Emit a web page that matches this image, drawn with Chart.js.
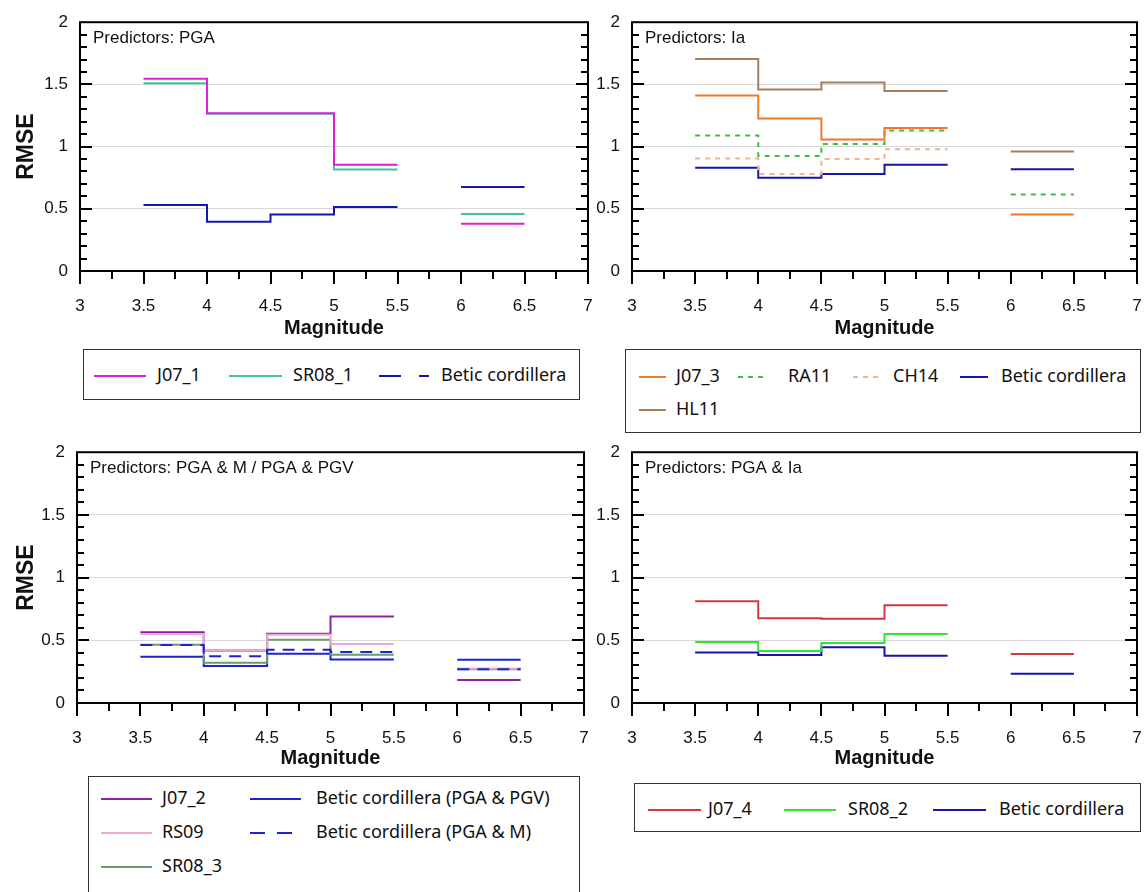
<!DOCTYPE html>
<html>
<head>
<meta charset="utf-8">
<script src="https://cdn.jsdelivr.net/npm/chart.js@4.4.1/dist/chart.umd.min.js"></script>
<style>
body { margin: 0; background: #fff; }
#page { position: relative; width: 1146px; height: 892px; overflow: hidden; background: #fff; }
canvas { position: absolute; }
.legend { position: absolute; border: 1.5px solid #333; box-sizing: border-box; background: #fff;
          font-family: "Noto Sans", sans-serif; font-size: 18px; color: #111; }
.item { position: absolute; white-space: nowrap; line-height: 20px; }
.item svg { position: absolute; }
</style>
</head>
<body>
<div id="page">
  <canvas id="c1" width="600" height="345" style="left:0px;top:0px"></canvas>
  <canvas id="c2" width="556" height="345" style="left:590px;top:0px"></canvas>
  <canvas id="c3" width="600" height="345" style="left:0px;top:430px"></canvas>
  <canvas id="c4" width="556" height="345" style="left:590px;top:430px"></canvas>
</div>
<script>
// magnitude bin edges; each value holds from its edge to the next one
var mag_edges = [3.5, 4, 4.5, 5, 5.5];
var mag_last = [6, 6.5];
var x_ticks = [3, 3.5, 4, 4.5, 5, 5.5, 6, 6.5, 7];
var y_ticks = [0, 0.5, 1, 1.5, 2];

// RMSE per bin: 3.5-4, 4-4.5, 4.5-5, 5-5.5, 6-6.5
// predictors: PGA
var j07_1 = [1.545, 1.268, 1.268, 0.855, 0.38];
var sr08_1 = [1.51, 1.264, 1.264, 0.815, 0.458];
var betic_1 = [0.53, 0.395, 0.455, 0.515, 0.675];

// predictors: Ia
var j07_3 = [1.41, 1.225, 1.058, 1.15, 0.455];
var ra11 = [1.09, 0.925, 1.02, 1.13, 0.615];
var ch14 = [0.905, 0.78, 0.9, 0.978, null];
var hl11 = [1.705, 1.46, 1.515, 1.447, 0.96];
var betic_2 = [0.83, 0.75, 0.78, 0.855, 0.818];

// predictors: PGA & M / PGA & PGV
var j07_2 = [0.565, 0.418, 0.553, 0.69, 0.183];
var rs09 = [0.55, 0.42, 0.545, 0.47, 0.275];
var sr08_3 = [0.465, 0.32, 0.505, 0.385, 0.27];
var betic_pgv = [0.368, 0.295, 0.392, 0.347, 0.345];
var betic_m = [0.463, 0.373, 0.425, 0.407, 0.27];

// predictors: PGA & Ia
var j07_4 = [0.812, 0.675, 0.672, 0.78, 0.39];
var sr08_2 = [0.487, 0.414, 0.479, 0.55, null];
var betic_4 = [0.403, 0.382, 0.445, 0.377, 0.233];

function step_points(vals) {
    var pts = [];
    for (var i = 0; i < 4; i++) {
        pts.push({x: mag_edges[i], y: vals[i]});
    }
    pts.push({x: mag_edges[4], y: vals[3]});
    pts.push({x: 5.75, y: null});
    if (vals[4] !== null) {
        pts.push({x: mag_last[0], y: vals[4]});
        pts.push({x: mag_last[1], y: vals[4]});
    }
    return pts;
}

function make_dataset(name, vals, color, dash, width) {
    return {
        label: name,
        data: step_points(vals),
        borderColor: color,
        borderWidth: width || 2,
        borderDash: dash || [],
        stepped: 'before',
        pointRadius: 0,
        fill: false,
        spanGaps: false
    };
}

var frame_plugin = {
    id: 'frame',
    afterDraw: function(chart) {
        var ctx = chart.ctx;
        var a = chart.chartArea;
        var xs = chart.scales.x;
        var ys = chart.scales.y;
        ctx.save();
        ctx.strokeStyle = '#000';
        ctx.lineWidth = 2;
        ctx.strokeRect(a.left, a.top, a.right - a.left, a.bottom - a.top);
        ctx.beginPath();
        // y ticks inside, both sides
        for (var v = 1; v < 20; v++) {
            var y = Math.round(ys.getPixelForValue(v / 10));
            var len = (v % 5 == 0) ? 12 : 7;
            ctx.moveTo(a.left, y); ctx.lineTo(a.left + len, y);
            ctx.moveTo(a.right, y); ctx.lineTo(a.right - len, y);
        }
        // x ticks outside, below
        for (var k = 0; k <= 16; k++) {
            var x = Math.round(xs.getPixelForValue(3 + k * 0.25));
            var l2 = (k % 2 == 0) ? 13 : 8;
            ctx.moveTo(x, a.bottom); ctx.lineTo(x, a.bottom + l2);
        }
        ctx.stroke();
        ctx.fillStyle = '#111';
        ctx.font = '17px "Liberation Sans", Arial, sans-serif';
        ctx.textBaseline = 'middle';
        ctx.fillText(chart.options.plugins.frame.label, a.left + 13, a.top + 16);
        ctx.restore();
    }
};

function create_panel(canvas_id, p) {
    var ctx = document.getElementById(canvas_id);
    var w = ctx.width, h = ctx.height;
    return new Chart(ctx, {
        type: 'line',
        data: { datasets: p.datasets },
        options: {
            responsive: false,
            animation: false,
            devicePixelRatio: 1,
            layout: { padding: { left: 0, top: p.top, right: w - p.right, bottom: 0 } },
            plugins: {
                legend: { display: false },
                tooltip: { enabled: false },
                frame: { label: p.label }
            },
            scales: {
                x: {
                    type: 'linear', min: 3, max: 7,
                    afterBuildTicks: function(s) { s.ticks = x_ticks.map(function(v) { return {value: v}; }); },
                    afterFit: function(s) {
                        s.height = h - p.bottom;
                        s.paddingLeft = 0;
                        s.paddingRight = 0;
                    },
                    grid: { display: false, drawTicks: false },
                    border: { display: false },
                    ticks: { padding: 25, maxRotation: 0, autoSkip: false, color: '#111',
                             callback: function(v) { return String(v); },
                             font: { family: '"Liberation Sans", Arial', size: 17 } },
                    title: { display: true, text: 'Magnitude', color: '#111',
                             padding: { top: 0, bottom: 5 },
                             font: { family: '"Liberation Sans", Arial', size: 20, weight: 'bold' } }
                },
                y: {
                    min: 0, max: 2,
                    afterBuildTicks: function(s) { s.ticks = y_ticks.map(function(v) { return {value: v}; }); },
                    afterFit: function(s) { s.width = p.left; },
                    grid: { color: '#d9d9d9', lineWidth: 1, drawTicks: false },
                    border: { display: false },
                    ticks: { padding: p.ypad, color: '#111',
                             callback: function(v) { return String(v); },
                             font: { family: '"Liberation Sans", Arial', size: 17 } },
                    title: { display: p.rmse, text: 'RMSE', color: '#111',
                             padding: { top: 13, bottom: 0 },
                             font: { family: '"Liberation Sans", Arial', size: 23, weight: 'bold' } }
                }
            }
        },
        plugins: [frame_plugin]
    });
}

function sample_svg(color, dash, len) {
    return '<svg width="' + len + '" height="4" style="left:0;top:9px">' +
        '<line x1="0" y1="2" x2="' + len + '" y2="2" stroke="' + color + '" stroke-width="2"' +
        (dash ? ' stroke-dasharray="' + dash + '"' : '') + '/></svg>';
}

function create_legend(box, items) {
    var div = document.createElement('div');
    div.className = 'legend';
    div.style.left = box.left + 'px';
    div.style.top = box.top + 'px';
    div.style.width = box.width + 'px';
    div.style.height = box.height + 'px';
    items.forEach(function(it) {
        var el = document.createElement('div');
        el.className = 'item';
        el.style.left = (it.x - box.left) + 'px';
        el.style.top = (it.y - box.top - 10) + 'px';
        el.innerHTML = sample_svg(it.color, it.dash, it.len) +
            '<span style="position:absolute;left:' + it.gap + 'px;top:-1px">' + it.label + '</span>';
        div.appendChild(el);
    });
    document.getElementById('page').appendChild(div);
}

var c_magenta = '#e21fd8', c_teal = '#3fc4a2', c_navy = '#1616a8';
var c_orange = '#f0782a', c_green_d = '#3ebd3e', c_peach = '#f3b293', c_brown = '#a2805c';
var c_purple = '#8a22a8', c_pink = '#f2a6d2', c_sage = '#6c9c6c', c_blue = '#1c24cc';
var c_red = '#d2383a', c_lime = '#34e234';

create_panel('c1', {
    left: 80, right: 588, top: 17, bottom: 271, ypad: 12, rmse: true,
    label: 'Predictors: PGA',
    datasets: [
        make_dataset('J07_1', j07_1, c_magenta),
        make_dataset('SR08_1', sr08_1, c_teal),
        make_dataset('Betic cordillera', betic_1, c_navy)
    ]
});

create_panel('c2', {
    left: 42, right: 547, top: 17, bottom: 271, ypad: 12, rmse: false,
    label: 'Predictors: Ia',
    datasets: [
        make_dataset('HL11', hl11, c_brown),
        make_dataset('J07_3', j07_3, c_orange),
        make_dataset('RA11', ra11, c_green_d, [5, 5]),
        make_dataset('CH14', ch14, c_peach, [5, 5]),
        make_dataset('Betic cordillera', betic_2, c_navy)
    ]
});

create_panel('c3', {
    left: 77, right: 584, top: 18, bottom: 273, ypad: 12, rmse: true,
    label: 'Predictors: PGA & M / PGA & PGV',
    datasets: [
        make_dataset('Betic cordillera (PGA & M)', betic_m, c_blue, [12, 8]),
        make_dataset('RS09', rs09, c_pink),
        make_dataset('J07_2', j07_2, c_purple),
        make_dataset('SR08_3', sr08_3, c_sage),
        make_dataset('Betic cordillera (PGA & PGV)', betic_pgv, c_blue)
    ]
});

create_panel('c4', {
    left: 42, right: 547, top: 18, bottom: 273, ypad: 12, rmse: false,
    label: 'Predictors: PGA & Ia',
    datasets: [
        make_dataset('J07_4', j07_4, c_red),
        make_dataset('SR08_2', sr08_2, c_lime),
        make_dataset('Betic cordillera', betic_4, c_navy)
    ]
});

create_legend({left: 83, top: 349, width: 497, height: 51}, [
    {label: 'J07_1', color: c_magenta, x: 93, y: 374, len: 52, gap: 63},
    {label: 'SR08_1', color: c_teal, x: 228, y: 374, len: 53, gap: 64},
    {label: 'Betic cordillera', color: c_navy, dash: '22 18 10 60', x: 378, y: 374, len: 50, gap: 62}
]);

create_legend({left: 625, top: 349, width: 516, height: 84}, [
    {label: 'J07_3', color: c_orange, x: 638, y: 375, len: 27, gap: 37},
    {label: 'RA11', color: c_green_d, dash: '5 5', x: 737, y: 375, len: 28, gap: 50},
    {label: 'CH14', color: c_peach, dash: '5 5', x: 852, y: 375, len: 29, gap: 40},
    {label: 'Betic cordillera', color: c_navy, x: 959, y: 375, len: 28, gap: 41},
    {label: 'HL11', color: c_brown, x: 638, y: 408, len: 27, gap: 37}
]);

create_legend({left: 88, top: 776, width: 492, height: 130}, [
    {label: 'J07_2', color: c_purple, x: 100, y: 797, len: 51, gap: 61},
    {label: 'RS09', color: c_pink, x: 100, y: 831, len: 51, gap: 61},
    {label: 'SR08_3', color: c_sage, x: 100, y: 865, len: 51, gap: 61},
    {label: 'Betic cordillera (PGA &amp; PGV)', color: c_blue, x: 249, y: 797, len: 51, gap: 66},
    {label: 'Betic cordillera (PGA &amp; M)', color: c_blue, dash: '15 12', x: 249, y: 831, len: 51, gap: 66}
]);

create_legend({left: 634, top: 783, width: 507, height: 49}, [
    {label: 'J07_4', color: c_red, x: 647, y: 808, len: 53, gap: 60},
    {label: 'SR08_2', color: c_lime, x: 783, y: 808, len: 52, gap: 64},
    {label: 'Betic cordillera', color: c_navy, x: 932, y: 808, len: 53, gap: 66}
]);
</script>
</body>
</html>
